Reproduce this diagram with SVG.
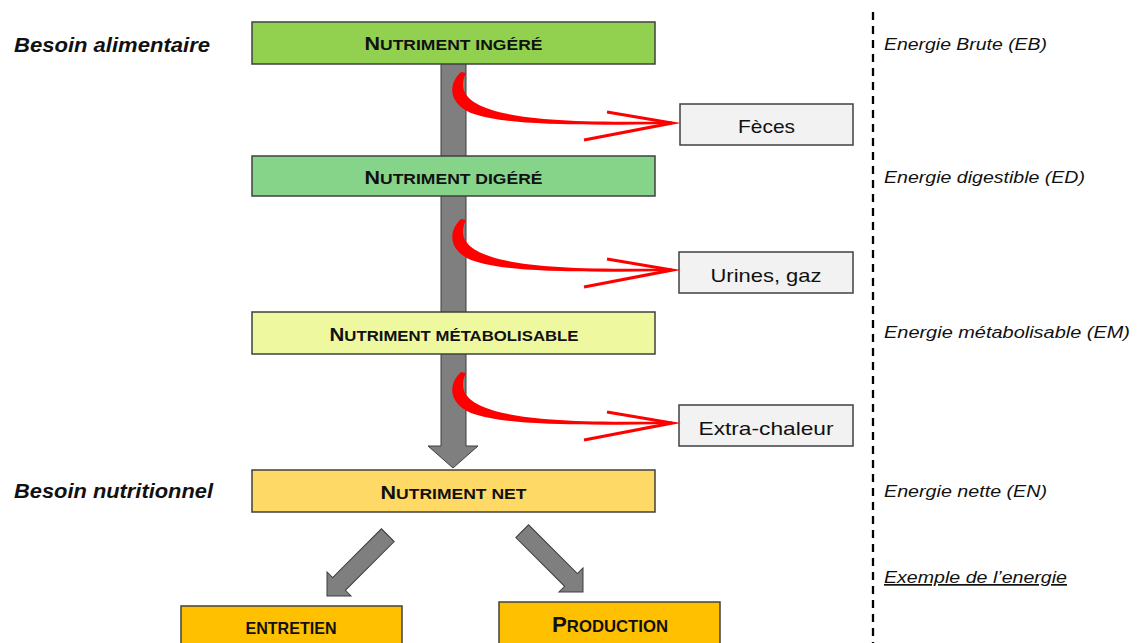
<svg xmlns="http://www.w3.org/2000/svg" width="1137" height="643" viewBox="0 0 1137 643">
<style>
.box{stroke:#404040;stroke-width:1.5}
.lbl{font-family:"Liberation Sans",Arial,sans-serif;font-weight:bold;fill:#111;text-anchor:middle}
.big{font-size:19px}
.sm{font-size:15.5px}
.side{font-family:"Liberation Sans",Arial,sans-serif;font-size:19px;fill:#111;text-anchor:middle}
.right{font-family:"Liberation Sans",Arial,sans-serif;font-size:17px;font-style:italic;fill:#111}
.left{font-family:"Liberation Sans",Arial,sans-serif;font-size:20px;font-style:italic;font-weight:bold;fill:#111}
.gray{fill:#7F7F7F;stroke:#3F3F3F;stroke-width:1}
.red{fill:#FF0000}
.redline{fill:none;stroke:#FF0000;stroke-width:3.2;stroke-linejoin:miter;stroke-miterlimit:10}
</style>
<defs>
<filter id="soft" x="-10%" y="-10%" width="120%" height="120%"><feGaussianBlur stdDeviation="0.6"/></filter>
<g id="redArrow" filter="url(#soft)">
<path class="red" d="M461,72 C448,84 448,103 471,113 C501,124 560,126 672,124 L672,121.5 C580,122.5 522,120.5 489,109 C463,100 459,87 466,73 Z"/>
<path class="redline" d="M607,112 L672,123 L584,140"/>
</g>
<polygon id="diagArrow" class="gray" points="0,0 -17,-17 -9,-17 -9,-86 9,-86 9,-17 17,-17"/>
</defs>
<rect width="1137" height="643" fill="#fff"/>

<g id="connectors">
<polygon id="mainArrow" class="gray" points="441,60 466,60 466,446 478,446 453,468 428,446 441,446"/>
</g>

<g id="node-ingere"><rect class="box" x="252" y="22" width="403" height="42" fill="#92D050"/>
<text class="lbl" x="453.5" y="50" textLength="178" lengthAdjust="spacingAndGlyphs"><tspan class="big">N</tspan><tspan class="sm">UTRIMENT INGÉRÉ</tspan></text></g>

<g id="node-digere"><rect class="box" x="252" y="156" width="403" height="40" fill="#86D38A"/>
<text class="lbl" x="453.5" y="184" textLength="178" lengthAdjust="spacingAndGlyphs"><tspan class="big">N</tspan><tspan class="sm">UTRIMENT DIGÉRÉ</tspan></text></g>

<g id="node-metab"><rect class="box" x="252" y="312" width="403" height="42" fill="#EEF99F"/>
<text class="lbl" x="454" y="341" textLength="249" lengthAdjust="spacingAndGlyphs"><tspan class="big">N</tspan><tspan class="sm">UTRIMENT MÉTABOLISABLE</tspan></text></g>

<g id="node-net"><rect class="box" x="252" y="470" width="403" height="42" fill="#FFD966"/>
<text class="lbl" x="453.5" y="499" textLength="146" lengthAdjust="spacingAndGlyphs"><tspan class="big">N</tspan><tspan class="sm">UTRIMENT NET</tspan></text></g>

<g id="node-entretien"><rect class="box" x="181" y="606" width="221" height="45" fill="#FFC000"/>
<text class="lbl" x="291" y="634" font-size="16.5" textLength="91" lengthAdjust="spacingAndGlyphs">ENTRETIEN</text></g>

<g id="node-production"><rect class="box" x="499" y="602" width="221" height="49" fill="#FFC000"/>
<text class="lbl" x="610" y="632" textLength="116" lengthAdjust="spacingAndGlyphs"><tspan font-size="22">P</tspan><tspan font-size="16.5">RODUCTION</tspan></text></g>

<g id="node-feces"><rect class="box" x="680" y="104" width="173" height="41" fill="#F2F2F2"/>
<text class="side" x="766.5" y="133" textLength="57" lengthAdjust="spacingAndGlyphs">Fèces</text></g>

<g id="node-urines"><rect class="box" x="679" y="252" width="174" height="41" fill="#F2F2F2"/>
<text class="side" x="766" y="282" textLength="111" lengthAdjust="spacingAndGlyphs">Urines, gaz</text></g>

<g id="node-extra"><rect class="box" x="679" y="405" width="174" height="41" fill="#F2F2F2"/>
<text class="side" x="766" y="435" textLength="135" lengthAdjust="spacingAndGlyphs">Extra-chaleur</text></g>

<g id="connectors-2">
<use href="#redArrow"/>
<use href="#redArrow" transform="translate(0,147)"/>
<use href="#redArrow" transform="translate(0,300)"/>
<use href="#diagArrow" transform="translate(327,596) rotate(45)"/>
<use href="#diagArrow" transform="translate(583,592) rotate(-45)"/>
</g>

<g id="labels-left">
<text class="left" x="14" y="52" textLength="196" lengthAdjust="spacingAndGlyphs">Besoin alimentaire</text>
<text class="left" x="14" y="498" textLength="199" lengthAdjust="spacingAndGlyphs">Besoin nutritionnel</text>
</g>

<g id="divider">
<line x1="873" y1="12" x2="873" y2="643" stroke="#000" stroke-width="2.3" stroke-dasharray="8,6"/>
</g>

<g id="labels-right">
<text class="right" x="884" y="50" textLength="163" lengthAdjust="spacingAndGlyphs">Energie Brute (EB)</text>
<text class="right" x="884" y="183" textLength="201" lengthAdjust="spacingAndGlyphs">Energie digestible (ED)</text>
<text class="right" x="884" y="338" textLength="246" lengthAdjust="spacingAndGlyphs">Energie métabolisable (EM)</text>
<text class="right" x="884" y="497" textLength="163" lengthAdjust="spacingAndGlyphs">Energie nette (EN)</text>
<text class="right" x="884" y="583" textLength="183" lengthAdjust="spacingAndGlyphs" text-decoration="underline">Exemple de l’energie</text>
</g>
</svg>
